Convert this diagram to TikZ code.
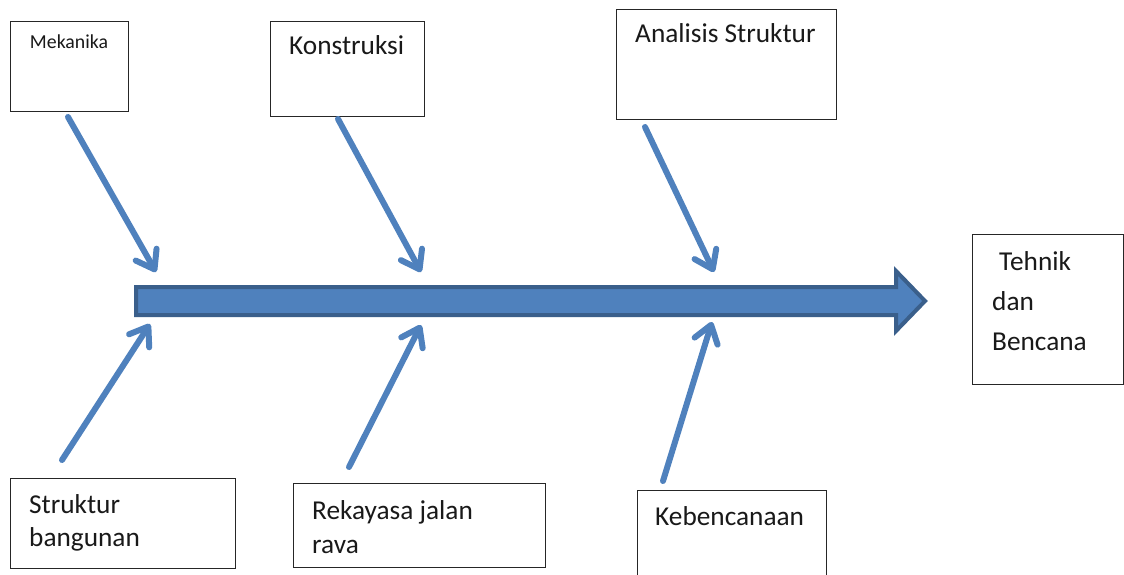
\documentclass[tikz,border=0pt]{standalone}
\usepackage{fontspec}
\setmainfont{Carlito}
\usetikzlibrary{arrows.meta}
\definecolor{spinefill}{HTML}{4F81BD}
\definecolor{spineedge}{HTML}{3A5F8B}
\definecolor{bonecol}{HTML}{4F81BD}
\tikzset{
  box/.style={draw=black!85, line width=1.2pt, fill=white, inner sep=0pt, anchor=north west},
  lbl/.style={inner sep=0pt, anchor=base west, font=\fontsize{27.3}{27.3}\selectfont, text=black!90},
  smalllbl/.style={inner sep=0pt, anchor=base, font=\fontsize{19.8}{19.8}\selectfont, text=black!90},
  bone/.style={draw=bonecol, line width=6pt, line cap=round,
    -{Straight Barb[length=17pt,width=24pt,line cap=round,line join=round]}},
}
\begin{document}
\begin{tikzpicture}[x=1pt,y=-1pt]
\useasboundingbox (0,0) rectangle (1124,575);

% cause boxes above the spine
\node[box, minimum width=118, minimum height=90] (mekbox) at (10,21) {};
\node[smalllbl] (mek) at (69,49) {Mekanika};
\node[box, minimum width=154, minimum height=95] (konbox) at (270,21) {};
\node[lbl] (kon) at (289,55) {Konstruksi};
\node[box, minimum width=220, minimum height=110] (anabox) at (616,9) {};
\node[lbl] (ana) at (635,43) {Analisis Struktur};

% cause boxes below the spine
\node[box, minimum width=225, minimum height=90] (strbox) at (10,478) {};
\node[lbl] (str1) at (29,513) {Struktur};
\node[lbl] (str2) at (29,546) {bangunan};
\node[box, minimum width=252, minimum height=84] (rekbox) at (293,483) {};
\node[lbl] (rek1) at (312,519) {Rekayasa jalan};
\node[lbl] (rek2) at (312,553) {rava};
\node[box, minimum width=189, minimum height=95] (kebbox) at (637,490) {};
\node[lbl] (keb) at (655,525) {Kebencanaan};

% effect box
\node[box, minimum width=151, minimum height=150] (effbox) at (972,234) {};
\node[lbl] (eff1) at (999,270) {Tehnik};
\node[lbl] (eff2) at (992,310) {dan};
\node[lbl] (eff3) at (992,350) {Bencana};

% main spine arrow
\draw[fill=spinefill, draw=spineedge, line width=4pt, line join=miter]
  (136,287) -- (896,287) -- (896,271) -- (925,301) -- (896,331) -- (896,315) -- (136,315) -- cycle;

% bone start and end points
\coordinate (m0) at (68,117);   \coordinate (m1) at (156,272);
\coordinate (k0) at (338,119);  \coordinate (k1) at (421,272);
\coordinate (a0) at (645,127);  \coordinate (a1) at (714,272);
\coordinate (s0) at (62,460);   \coordinate (s1) at (150,324);
\coordinate (r0) at (349,467);  \coordinate (r1) at (421,325);
\coordinate (e0) at (663,481);  \coordinate (e1) at (712,322);

\draw[bone] (m0) -- (m1);
\draw[bone] (k0) -- (k1);
\draw[bone] (a0) -- (a1);
\draw[bone] (s0) -- (s1);
\draw[bone] (r0) -- (r1);
\draw[bone] (e0) -- (e1);
\end{tikzpicture}
\end{document}
